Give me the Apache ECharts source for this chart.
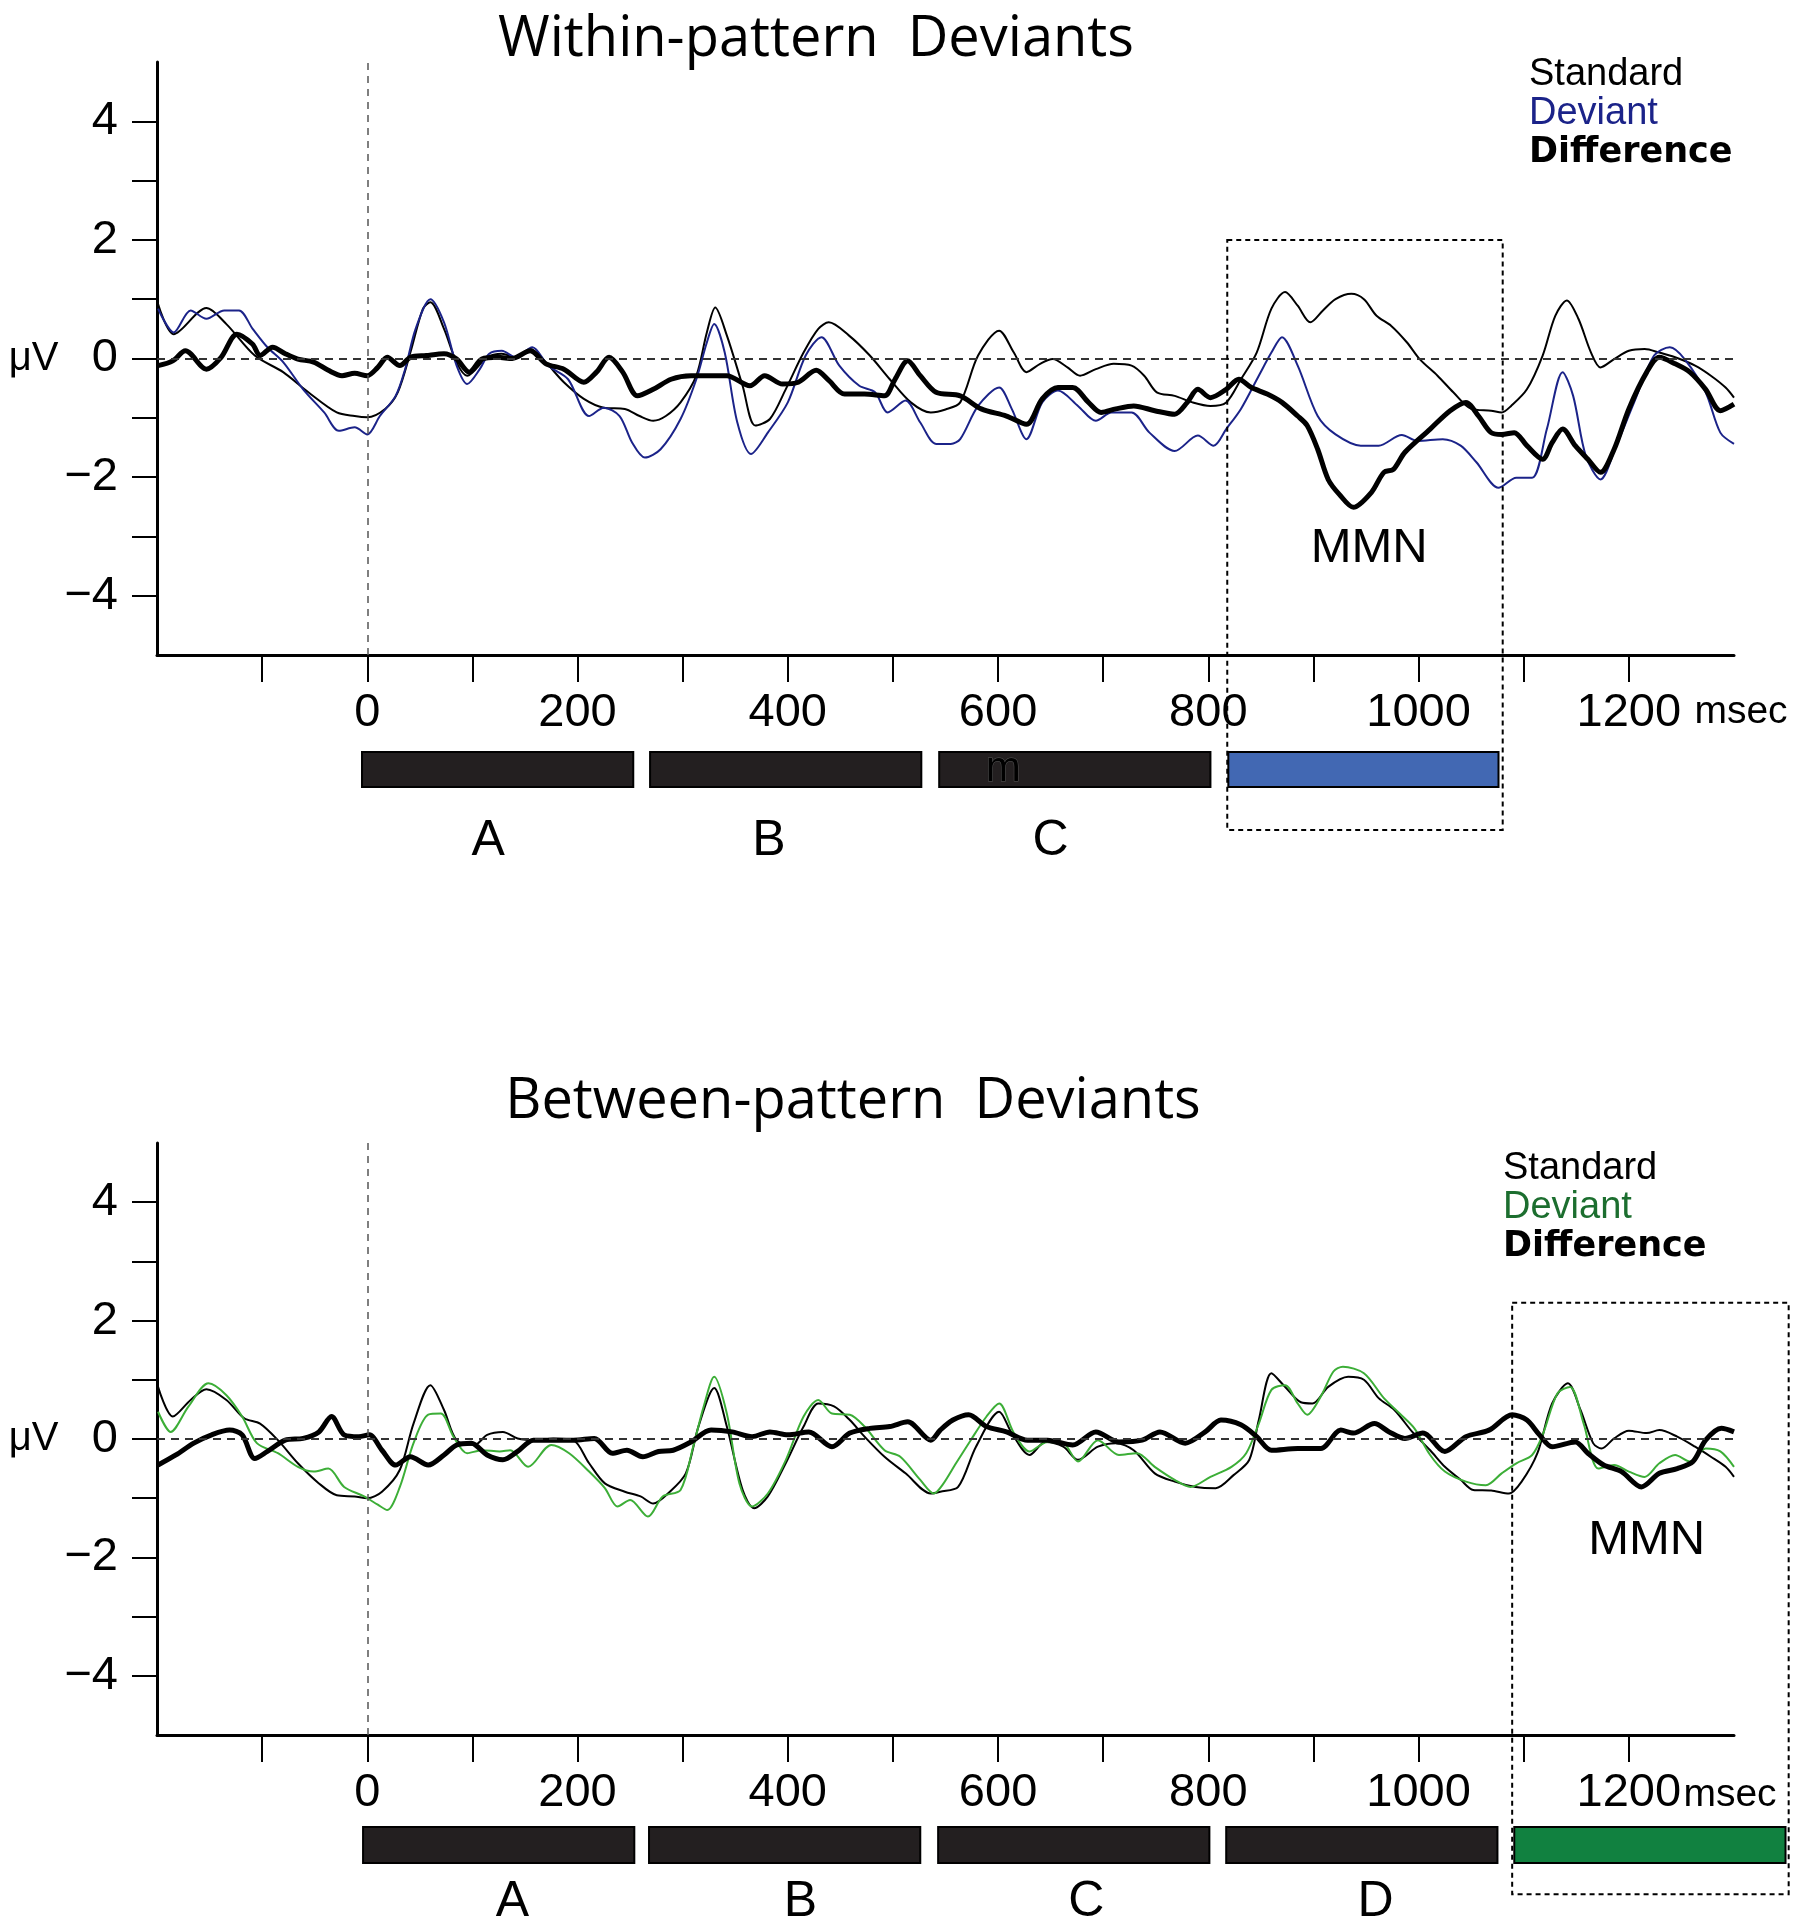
<!DOCTYPE html>
<html>
<head>
<meta charset="utf-8">
<script src="https://cdn.jsdelivr.net/npm/echarts@6/dist/echarts.min.js"></script>
<style>html,body{margin:0;padding:0;background:#fff}#c{width:1800px;height:1931px}</style>
</head>
<body>
<div id="c"></div>
<script>
// ---------- axis ticks / labels ----------
const xTickValues = [-100,0,100,200,300,400,500,600,700,800,900,1000,1100,1200];
const xLabelValues = [0,200,400,600,800,1000,1200];
const yTickValues = [-4,-3,-2,-1,0,1,2,3,4];
const yLabelValues = [-4,-2,0,2,4];

// ---------- Within-pattern (top) ----------
const topStandard = [[-199,0.92],[-184,0.41],[-153,0.85],[-134,0.58],[-107,0.05],[-80,-0.23],[-56,-0.57],[-29,-0.91],[-12,-0.97],[0,-0.99],[17,-0.85],[29,-0.57],[41,0.10],[53,0.84],[60,0.95],[73,0.50],[85,-0.07],[95,-0.29],[114,0.02],[128,0.08],[141,0.02],[155,0.16],[170,-0.07],[187,-0.40],[206,-0.68],[225,-0.83],[245,-0.85],[259,-0.97],[272,-1.05],[284,-0.97],[298,-0.74],[313,-0.29],[323,0.44],[331,0.86],[342,0.39],[357,-0.46],[369,-1.13],[383,-1.02],[398,-0.52],[415,0.10],[429,0.50],[439,0.61],[458,0.39],[478,0.05],[497,-0.35],[517,-0.74],[536,-0.91],[550,-0.86],[564,-0.74],[581,0.05],[601,0.47],[615,0.10],[627,-0.23],[640,-0.09],[652,-0.01],[666,-0.15],[678,-0.29],[693,-0.18],[710,-0.09],[727,-0.12],[739,-0.29],[751,-0.57],[768,-0.63],[785,-0.74],[802,-0.80],[817,-0.74],[831,-0.35],[846,0.10],[860,0.84],[873,1.12],[885,0.89],[897,0.61],[909,0.81],[921,1.00],[936,1.09],[948,1.00],[960,0.72],[974,0.55],[989,0.27],[1001,-0.01],[1018,-0.29],[1033,-0.57],[1050,-0.85],[1069,-0.88],[1079,-0.91],[1088,-0.80],[1103,-0.52],[1118,0.05],[1130,0.72],[1141,0.98],[1152,0.67],[1164,0.10],[1173,-0.15],[1186,-0.01],[1200,0.13],[1215,0.16],[1229,0.10],[1244,0.02],[1263,-0.12],[1278,-0.29],[1292,-0.49],[1300,-0.66]];
const topDeviant = [[-199,0.84],[-184,0.44],[-168,0.81],[-153,0.67],[-136,0.81],[-122,0.81],[-109,0.50],[-95,0.19],[-80,-0.06],[-61,-0.52],[-41,-0.91],[-27,-1.22],[-12,-1.16],[0,-1.28],[12,-0.97],[27,-0.63],[36,-0.18],[46,0.50],[60,1.00],[73,0.61],[85,-0.12],[95,-0.43],[107,-0.18],[116,0.08],[128,0.13],[141,0.02],[157,0.19],[172,-0.12],[191,-0.35],[211,-0.97],[225,-0.83],[240,-0.97],[252,-1.42],[264,-1.67],[279,-1.53],[298,-1.02],[313,-0.35],[323,0.27],[330,0.58],[340,0.10],[352,-1.08],[365,-1.61],[381,-1.25],[400,-0.74],[417,0.05],[432,0.36],[449,-0.12],[468,-0.46],[483,-0.57],[495,-0.91],[512,-0.71],[526,-1.08],[541,-1.44],[555,-1.44],[564,-1.36],[581,-0.80],[601,-0.49],[613,-0.85],[627,-1.36],[642,-0.74],[657,-0.54],[676,-0.80],[693,-1.05],[708,-0.91],[727,-0.91],[744,-1.25],[768,-1.56],[790,-1.30],[805,-1.47],[817,-1.19],[831,-0.85],[848,-0.29],[860,0.10],[870,0.36],[885,-0.12],[904,-0.97],[921,-1.28],[945,-1.47],[962,-1.47],[984,-1.29],[999,-1.39],[1023,-1.36],[1040,-1.47],[1055,-1.75],[1076,-2.18],[1093,-2.01],[1108,-2.01],[1122,-1.19],[1137,-0.23],[1147,-0.63],[1159,-1.64],[1173,-2.04],[1188,-1.47],[1205,-0.74],[1224,0.05],[1239,0.19],[1253,-0.01],[1273,-0.57],[1287,-1.25],[1300,-1.44]];
const topDifference = [[-199,-0.12],[-185,-0.04],[-173,0.13],[-153,-0.18],[-139,0.02],[-124,0.41],[-109,0.24],[-102,0.05],[-90,0.19],[-78,0.08],[-66,-0.01],[-51,-0.06],[-37,-0.20],[-24,-0.29],[-12,-0.25],[0,-0.29],[10,-0.15],[19,0.02],[31,-0.12],[41,0.02],[56,0.05],[73,0.08],[85,-0.01],[97,-0.23],[109,-0.01],[124,0.02],[138,0.00],[155,0.13],[170,-0.09],[187,-0.18],[206,-0.40],[218,-0.23],[230,0.02],[243,-0.23],[257,-0.63],[272,-0.52],[289,-0.35],[308,-0.29],[342,-0.29],[364,-0.46],[378,-0.29],[395,-0.43],[410,-0.40],[427,-0.20],[439,-0.37],[454,-0.60],[473,-0.60],[492,-0.63],[502,-0.35],[514,-0.04],[526,-0.29],[541,-0.57],[564,-0.63],[584,-0.85],[608,-0.97],[627,-1.11],[642,-0.68],[657,-0.49],[671,-0.49],[686,-0.74],[698,-0.91],[712,-0.85],[729,-0.80],[749,-0.88],[768,-0.94],[780,-0.74],[790,-0.52],[802,-0.66],[817,-0.52],[829,-0.35],[841,-0.49],[856,-0.60],[870,-0.74],[885,-0.97],[894,-1.13],[904,-1.53],[914,-2.04],[925,-2.30],[938,-2.51],[955,-2.26],[967,-1.92],[976,-1.87],[987,-1.58],[1011,-1.19],[1030,-0.88],[1045,-0.74],[1057,-0.97],[1069,-1.25],[1079,-1.28],[1091,-1.25],[1103,-1.47],[1118,-1.70],[1127,-1.42],[1137,-1.19],[1149,-1.47],[1161,-1.70],[1173,-1.92],[1186,-1.53],[1200,-0.85],[1217,-0.23],[1229,0.02],[1244,-0.09],[1258,-0.23],[1273,-0.52],[1287,-0.88],[1300,-0.77]];
const topSegments = [[-5,253],[269,527],[544,802],[819,1076]];
const topSegLabels = ['A','B','C'];
const topLetterX = [115,382,650];
const topMMNBox = [818,1080,2.0,-7.95];
const topMMNLabel = [953,-3.2];

// ---------- Between-pattern (bottom) ----------
const botStandard = [[-199,0.88],[-185,0.38],[-168,0.66],[-153,0.84],[-134,0.66],[-117,0.35],[-102,0.26],[-85,-0.02],[-66,-0.41],[-46,-0.75],[-29,-0.95],[-12,-0.97],[0,-1.00],[14,-0.89],[31,-0.52],[44,0.26],[60,0.91],[73,0.49],[85,-0.02],[102,-0.10],[114,0.07],[129,0.12],[143,0.01],[160,-0.02],[177,0.01],[196,-0.02],[211,-0.41],[226,-0.75],[245,-0.89],[260,-0.97],[272,-1.09],[286,-0.92],[303,-0.58],[315,0.21],[330,0.86],[342,0.21],[357,-0.86],[368,-1.17],[381,-0.97],[398,-0.41],[415,0.21],[429,0.60],[444,0.55],[459,0.32],[473,0.04],[492,-0.30],[512,-0.58],[536,-0.92],[545,-0.89],[562,-0.81],[579,-0.13],[601,0.46],[613,0.10],[630,-0.27],[645,-0.05],[662,-0.13],[676,-0.35],[695,-0.13],[712,-0.07],[729,-0.19],[749,-0.58],[768,-0.72],[788,-0.81],[807,-0.83],[824,-0.61],[839,-0.35],[848,0.32],[860,1.11],[872,0.90],[888,0.62],[899,0.60],[914,0.88],[933,1.05],[948,1.00],[962,0.69],[977,0.49],[994,0.12],[1011,-0.19],[1025,-0.47],[1040,-0.69],[1052,-0.86],[1069,-0.87],[1086,-0.92],[1098,-0.72],[1113,-0.24],[1127,0.60],[1142,0.94],[1154,0.49],[1166,-0.07],[1174,-0.16],[1186,0.01],[1200,0.14],[1217,0.10],[1229,0.15],[1246,0.04],[1263,-0.13],[1278,-0.30],[1292,-0.47],[1300,-0.64]];
const botDeviant = [[-199,0.46],[-187,0.12],[-170,0.55],[-151,0.94],[-134,0.74],[-119,0.38],[-105,-0.07],[-85,-0.24],[-66,-0.47],[-51,-0.55],[-37,-0.50],[-22,-0.81],[-3,-0.97],[10,-1.11],[19,-1.20],[31,-0.81],[44,-0.07],[58,0.41],[70,0.43],[82,0.04],[95,-0.24],[109,-0.19],[126,-0.21],[136,-0.19],[153,-0.47],[175,-0.10],[192,-0.24],[211,-0.55],[226,-0.83],[238,-1.14],[250,-1.03],[267,-1.31],[281,-0.97],[298,-0.86],[310,-0.13],[320,0.55],[330,1.05],[342,0.43],[354,-0.75],[366,-1.14],[381,-0.92],[398,-0.36],[415,0.38],[429,0.66],[442,0.43],[459,0.41],[473,0.21],[492,-0.19],[507,-0.30],[526,-0.69],[539,-0.92],[547,-0.78],[560,-0.41],[574,-0.02],[589,0.38],[601,0.60],[615,0.10],[630,-0.21],[647,-0.05],[662,-0.07],[676,-0.38],[695,-0.02],[715,-0.27],[732,-0.24],[749,-0.47],[768,-0.69],[783,-0.81],[802,-0.64],[822,-0.47],[836,-0.24],[848,0.26],[860,0.83],[873,0.91],[885,0.60],[894,0.41],[907,0.72],[919,1.14],[928,1.22],[948,1.11],[967,0.69],[982,0.43],[996,0.18],[1011,-0.27],[1025,-0.55],[1045,-0.72],[1064,-0.78],[1079,-0.58],[1093,-0.41],[1108,-0.27],[1118,0.07],[1132,0.77],[1144,0.88],[1157,0.26],[1171,-0.50],[1186,-0.44],[1200,-0.55],[1215,-0.64],[1229,-0.41],[1244,-0.27],[1258,-0.38],[1273,-0.16],[1287,-0.21],[1300,-0.47]];
const botDifference = [[-199,-0.44],[-182,-0.27],[-165,-0.07],[-148,0.07],[-131,0.15],[-119,0.07],[-107,-0.33],[-95,-0.21],[-78,-0.02],[-61,0.01],[-46,0.12],[-34,0.38],[-22,0.07],[-8,0.04],[2,0.07],[14,-0.19],[27,-0.44],[41,-0.30],[58,-0.44],[73,-0.27],[85,-0.10],[99,-0.07],[114,-0.27],[129,-0.35],[143,-0.21],[158,-0.02],[177,-0.02],[196,-0.02],[216,0.01],[233,-0.24],[247,-0.19],[262,-0.30],[277,-0.21],[291,-0.19],[308,-0.05],[327,0.15],[347,0.12],[366,0.04],[383,0.12],[400,0.07],[420,0.12],[442,-0.13],[459,0.10],[478,0.18],[497,0.21],[514,0.29],[536,-0.02],[545,0.15],[557,0.32],[572,0.41],[589,0.21],[608,0.12],[628,-0.02],[647,-0.02],[671,-0.10],[693,0.12],[715,-0.05],[737,-0.02],[754,0.12],[778,-0.07],[797,0.12],[812,0.32],[831,0.24],[846,0.04],[860,-0.19],[885,-0.16],[907,-0.16],[926,0.15],[938,0.10],[958,0.26],[972,0.12],[987,0.01],[1004,0.10],[1025,-0.21],[1045,0.04],[1067,0.15],[1089,0.41],[1103,0.32],[1115,0.07],[1127,-0.13],[1149,-0.05],[1161,-0.24],[1176,-0.44],[1193,-0.55],[1212,-0.81],[1229,-0.58],[1246,-0.50],[1261,-0.38],[1273,-0.02],[1288,0.18],[1300,0.12]];
const botSegments = [[-4,254],[268,526],[543,801],[817,1075],[1091,1349]];
const botSegLabels = ['A','B','C','D'];
const botLetterX = [138,412,684,959];
const botMMNBox = [1089,1352,2.3,-7.69];
const botMMNLabel = [1217,-1.72];

// ---------- styling ----------
const NUM_FONT = '"Liberation Sans", Arial, sans-serif';
const TITLE_FONT = '"Open Sans", "Noto Sans", sans-serif';
const BLUE_LINE = '#1b2389', BLUE_TEXT = '#1b2389', BLUE_BOX = '#4268b3';
const GREEN_LINE = '#3cae37', GREEN_TEXT = '#1c6e2f', GREEN_BOX = '#118140';
const BAR_DARK = '#231f20';

const chart = echarts.init(document.getElementById('c'), null, {renderer:'canvas'});

const fmt = v => String(v).replace('-', '\u2212');

function xAxisMain(g){
  return {type:'value', gridIndex:g, min:-200, max:1300, interval:100,
    axisLine:{onZero:false, lineStyle:{color:'#000', width:3}},
    axisTick:{customValues:xTickValues, length:27, lineStyle:{color:'#000', width:2}},
    axisLabel:{customValues:xLabelValues, formatter:fmt, fontSize:47, fontFamily:NUM_FONT, color:'#000', margin:35},
    splitLine:{show:false}};
}
function yAxisMain(g){
  return {type:'value', gridIndex:g, min:-5, max:5, interval:1,
    name:'\u03bcV', nameLocation:'middle', nameRotate:0, nameGap:98,
    nameTextStyle:{fontSize:40, fontFamily:NUM_FONT, color:'#000'},
    axisLine:{onZero:false, lineStyle:{color:'#000', width:3}},
    axisTick:{customValues:yTickValues, length:25, lineStyle:{color:'#000', width:2}},
    axisLabel:{customValues:yLabelValues, formatter:fmt, fontSize:47, fontFamily:NUM_FONT, color:'#000', margin:39},
    splitLine:{show:false}};
}
function hiddenX(g){ return {type:'value', gridIndex:g, min:-200, max:1300, show:false}; }
function hiddenY(g){ return {type:'value', gridIndex:g, min:0, max:1, show:false}; }

function lineSeries(name, data, g, color, width, extra){
  return Object.assign({name, type:'line', xAxisIndex:g, yAxisIndex:g, data, showSymbol:false, smooth:0.3,
    lineStyle:{color, width}, itemStyle:{color}, silent:true, z:3}, extra||{});
}
function refLines(){
  return {silent:true, symbol:'none', label:{show:false}, animation:false,
    data:[{yAxis:0, lineStyle:{type:[8,6], color:'#333', width:2}},
          {xAxis:0, lineStyle:{type:[7,6], color:'#555', width:1.5}}]};
}
function barsSeries(g, segs, colors){
  return {type:'custom', name:'bars'+g, xAxisIndex:g, yAxisIndex:g, clip:false, silent:true,
    data: segs.map((s,i)=>[s[0], s[1], i]),
    renderItem:(params, api)=>{
      const i = api.value(2);
      const a = api.coord([api.value(0), 1]);
      const b = api.coord([api.value(1), 0]);
      return {type:'rect', shape:{x:a[0], y:a[1], width:b[0]-a[0], height:b[1]-a[1]},
        style:{fill:colors[i], stroke:'#000', lineWidth:2}};
    }};
}
function lettersSeries(g, xs, labels, level){
  return {type:'custom', name:'letters'+g, xAxisIndex:g, yAxisIndex:g, clip:false, silent:true,
    data: xs.map((x,i)=>[x, level, i]),
    renderItem:(params, api)=>{
      const c = api.coord([api.value(0), api.value(1)]);
      return {type:'text', x:c[0], y:c[1],
        style:{text:labels[api.value(2)], fontSize:50, fontFamily:NUM_FONT, fill:'#000', align:'center', verticalAlign:'middle'}};
    }};
}
function boxSeries(g, box, label){
  return {type:'custom', name:'mmn'+g, xAxisIndex:g, yAxisIndex:g, clip:false, silent:true, z:5,
    data:[box.concat(label)],
    renderItem:(params, api)=>{
      const a = api.coord([api.value(0), api.value(2)]);
      const b = api.coord([api.value(1), api.value(3)]);
      const t = api.coord([api.value(4), api.value(5)]);
      return {type:'group', children:[
        {type:'rect', shape:{x:a[0], y:a[1], width:b[0]-a[0], height:b[1]-a[1]},
          style:{fill:'none', stroke:'#000', lineWidth:2, lineDash:[5,4]}},
        {type:'text', x:t[0], y:t[1], style:{text:'MMN', fontSize:49, fontFamily:NUM_FONT, fill:'#000', align:'center', verticalAlign:'middle'}}
      ]};
    }};
}
function artifactSeries(){
  // stray "m" glyph printed over bar C in the original figure
  return {type:'custom', name:'artifact', xAxisIndex:1, yAxisIndex:1, clip:false, silent:true, z:6,
    data:[[605,0.5]],
    renderItem:(p, api)=>{ const c = api.coord([api.value(0), api.value(1)]);
      return {type:'text', x:c[0], y:c[1], style:{text:'m', fontSize:42, fontFamily:NUM_FONT, fill:'#000', stroke:'#555', lineWidth:1, align:'center', verticalAlign:'middle'}}; }};
}
function legendFor(left, top, devColor){
  return {left, top, orient:'vertical', icon:'none', itemWidth:0, itemHeight:8, itemGap:1, selectedMode:false,
    textStyle:{fontSize:38, fontFamily:NUM_FONT, color:'#000', lineHeight:38},
    data:[{name:'Standard', textStyle:{color:'#000'}},
          {name:'Deviant', textStyle:{color:devColor}},
          {name:'Difference', textStyle:{color:'#000', fontWeight:'bold', fontSize:35, fontFamily:'"DejaVu Sans", sans-serif'}}]};
}
function gText(text, x, y, size, family){
  return {type:'text', x, y, silent:true, style:{text, fontSize:size, fontFamily:family, fill:'#000', align:'center', verticalAlign:'middle'}};
}

const option = {
  animation:false,
  backgroundColor:'#fff',
  grid:[
    {left:157, top:62, width:1577, height:593, outerBoundsMode:'none', containLabel:false},
    {left:157, top:752, width:1577, height:35, outerBoundsMode:'none', containLabel:false},
    {left:157, top:1143, width:1577, height:592, outerBoundsMode:'none', containLabel:false},
    {left:157, top:1827, width:1577, height:36, outerBoundsMode:'none', containLabel:false}
  ],
  xAxis:[xAxisMain(0), hiddenX(1), xAxisMain(2), hiddenX(3)],
  yAxis:[yAxisMain(0), hiddenY(1), yAxisMain(2), hiddenY(3)],
  legend:[legendFor(1519, 51, BLUE_TEXT), legendFor(1493, 1145, GREEN_TEXT)],
  graphic:[
    gText('Within-pattern  Deviants', 816, 40, 56, TITLE_FONT),
    gText('Between-pattern  Deviants', 853, 1102, 56, TITLE_FONT),
    gText('msec', 1741, 712, 39, NUM_FONT),
    gText('msec', 1730, 1795, 39, NUM_FONT)
  ],
  series:[
    lineSeries('Standard', topStandard, 0, '#000', 2, {markLine:refLines()}),
    lineSeries('Deviant', topDeviant, 0, BLUE_LINE, 2),
    lineSeries('Difference', topDifference, 0, '#000', 5),
    boxSeries(0, topMMNBox, topMMNLabel),
    barsSeries(1, topSegments, [BAR_DARK,BAR_DARK,BAR_DARK,BLUE_BOX]),
    lettersSeries(1, topLetterX, topSegLabels, -1.54),
    artifactSeries(),
    lineSeries('Standard', botStandard, 2, '#000', 2, {markLine:refLines()}),
    lineSeries('Deviant', botDeviant, 2, GREEN_LINE, 2),
    lineSeries('Difference', botDifference, 2, '#000', 5),
    boxSeries(2, botMMNBox, botMMNLabel),
    barsSeries(3, botSegments, [BAR_DARK,BAR_DARK,BAR_DARK,BAR_DARK,GREEN_BOX]),
    lettersSeries(3, botLetterX, botSegLabels, -1.08)
  ]
};
chart.setOption(option);
</script>
</body>
</html>
